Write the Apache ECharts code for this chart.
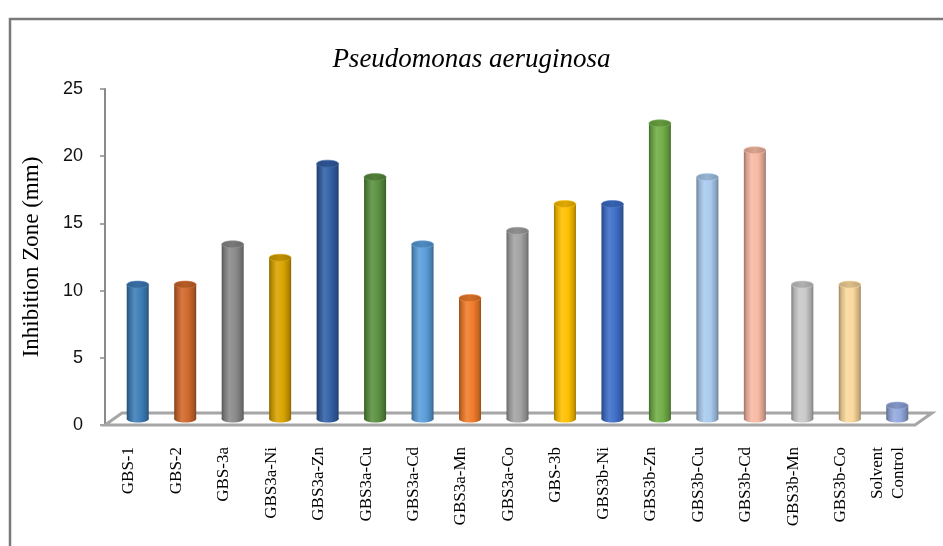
<!DOCTYPE html>
<html>
<head>
<meta charset="utf-8">
<script src="https://cdn.jsdelivr.net/npm/echarts@6/dist/echarts.min.js"></script>
<style>
  html, body { margin: 0; padding: 0; background: #fff; }
  #chart { width: 943px; height: 546px; }
</style>
</head>
<body>
<div id="chart"></div>
<script>
// Inhibition zones for each compound
const categories = [
  'GBS-1', 'GBS-2', 'GBS-3a', 'GBS3a-Ni', 'GBS3a-Zn', 'GBS3a-Cu', 'GBS3a-Cd',
  'GBS3a-Mn', 'GBS3a-Co', 'GBS-3b', 'GBS3b-Ni', 'GBS3b-Zn', 'GBS3b-Cu',
  'GBS3b-Cd', 'GBS3b-Mn', 'GBS3b-Co', 'Solvent\nControl'
];
const zoneValues = [10, 10, 13, 12, 19, 18, 13, 9, 14, 16, 16, 22, 18, 20, 10, 10, 1];
const yTicks = [0, 5, 10, 15, 20, 25];

// One colour per cylinder
const barColors = [
  '#3E7DB8', '#CF682C', '#8A8A8A', '#D9A400', '#3360A6', '#5A9040', '#5A9EDB',
  '#F07C2A', '#A3A3A3', '#FFC000', '#3F6FC8', '#70AD47', '#A9CBEE',
  '#F8B9A3', '#C9C9C9', '#FAD89C', '#93A9DE'
];

function shade(hex, f) {
  const n = parseInt(hex.slice(1), 16);
  let r = (n >> 16) & 255, g = (n >> 8) & 255, b = n & 255;
  if (f < 1) { r *= f; g *= f; b *= f; }
  else { const t = f - 1; r += (255 - r) * t; g += (255 - g) * t; b += (255 - b) * t; }
  return 'rgb(' + Math.round(r) + ',' + Math.round(g) + ',' + Math.round(b) + ')';
}

// depth offsets of the 3D floor / middle plane
const DEPTH_X = 17, DEPTH_Y = -12;
const MID_X = 9, MID_Y = -6;
const BAR_W = 22, CAP_H = 7;

function renderCylinder(params, api) {
  const idx = api.value(0);
  const top = api.coord([idx, api.value(1)]);
  const base = api.coord([idx, 0]);
  const cx = top[0] + MID_X;
  const yTop = top[1] + MID_Y;
  const yBase = base[1] + MID_Y;
  const col = barColors[idx % barColors.length];
  const body = new echarts.graphic.LinearGradient(0, 0, 1, 0, [
    { offset: 0, color: shade(col, 0.62) },
    { offset: 0.12, color: shade(col, 0.85) },
    { offset: 0.35, color: shade(col, 1.12) },
    { offset: 0.65, color: shade(col, 1.0) },
    { offset: 0.9, color: shade(col, 0.8) },
    { offset: 1, color: shade(col, 0.62) }
  ]);
  const cap = new echarts.graphic.LinearGradient(0, 0, 1, 0, [
    { offset: 0, color: shade(col, 0.78) },
    { offset: 0.5, color: shade(col, 0.88) },
    { offset: 1, color: shade(col, 0.76) }
  ]);
  return {
    type: 'group',
    children: [
      { type: 'ellipse', shape: { cx: cx, cy: yBase, rx: BAR_W / 2, ry: CAP_H / 2 },
        style: { fill: body } },
      { type: 'rect', shape: { x: cx - BAR_W / 2, y: yTop, width: BAR_W, height: yBase - yTop },
        style: { fill: body } },
      { type: 'ellipse', shape: { cx: cx, cy: yTop, rx: BAR_W / 2, ry: CAP_H / 2 },
        style: { fill: cap, stroke: shade(col, 1.1), lineWidth: 0.6 } }
    ]
  };
}

function renderFloor(params, api) {
  const cs = params.coordSys;
  const y0 = cs.y + cs.height;
  const xl = cs.x, xr = cs.x + cs.width + 3;
  const pts = [[xl, y0], [xr, y0], [xr + DEPTH_X, y0 + DEPTH_Y], [xl + DEPTH_X, y0 + DEPTH_Y]];
  return {
    type: 'polygon',
    shape: { points: pts },
    style: { fill: '#ffffff', stroke: '#a6a6a6', lineWidth: 3, lineJoin: 'miter' }
  };
}

const chart = echarts.init(document.getElementById('chart'), null, { renderer: 'canvas' });

chart.setOption({
  animation: false,
  backgroundColor: '#ffffff',
  title: {
    text: 'Pseudomonas aeruginosa',
    left: 'center',
    top: 41,
    textStyle: {
      fontFamily: 'Liberation Serif, Times New Roman, serif',
      fontStyle: 'italic',
      fontWeight: 'normal',
      fontSize: 27,
      color: '#000'
    }
  },
  graphic: [{
    type: 'rect',
    shape: { x: 10, y: 19, width: 960, height: 600 },
    style: { fill: 'none', stroke: '#7a7a7a', lineWidth: 2.5 },
    silent: true,
    z: -10
  }],
  grid: { left: 105, right: 31, top: 89, bottom: 121 },
  xAxis: {
    type: 'category',
    data: categories,
    axisLine: { show: false },
    axisTick: { show: false },
    axisLabel: {
      rotate: 90,
      margin: 22,
      interval: 0,
      fontFamily: 'Liberation Serif, Times New Roman, serif',
      fontSize: 17,
      color: '#000',
      lineHeight: 21
    }
  },
  yAxis: {
    type: 'value',
    min: 0,
    max: 25,
    interval: 5,
    name: 'Inhibition Zone (mm)',
    nameLocation: 'middle',
    nameGap: 62,
    nameTextStyle: {
      fontFamily: 'Liberation Serif, Times New Roman, serif',
      fontSize: 23,
      color: '#000'
    },
    axisLine: { show: true, lineStyle: { color: '#8a8a8a', width: 2 } },
    axisTick: { show: true, length: 5, lineStyle: { color: '#8a8a8a', width: 1.5 } },
    axisLabel: {
      margin: 22,
      fontFamily: 'Liberation Sans, Arial, sans-serif',
      fontSize: 18,
      color: '#111',
      formatter: function (v) { return yTicks.indexOf(v) >= 0 ? String(v) : ''; }
    },
    splitLine: { show: false }
  },
  series: [
    {
      type: 'custom',
      name: 'floor',
      renderItem: renderFloor,
      data: [[0, 0]],
      z: 1,
      silent: true
    },
    {
      type: 'custom',
      name: 'Inhibition Zone',
      renderItem: renderCylinder,
      encode: { x: 0, y: 1 },
      data: zoneValues.map(function (v, i) { return [i, v]; }),
      z: 5
    }
  ]
});
</script>
</body>
</html>
